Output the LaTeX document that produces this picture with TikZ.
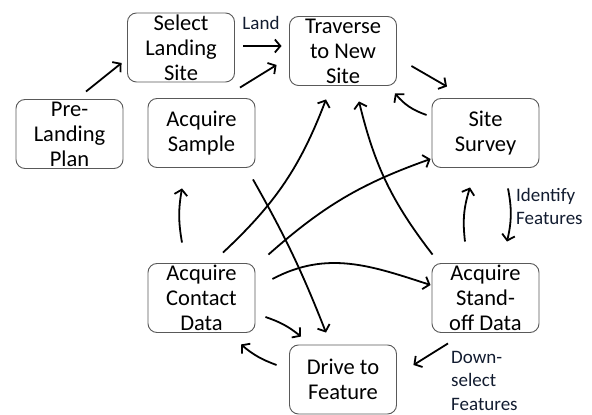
\documentclass[tikz,border=0pt]{standalone}
\usepackage{fontspec}
\setmainfont{Carlito}
\usetikzlibrary{arrows.meta}
\definecolor{labnavy}{rgb}{0.07,0.11,0.19}
\definecolor{boxedge}{rgb}{0.35,0.35,0.35}

\begin{document}
\begin{tikzpicture}[x=1pt,y=1pt,
   box/.style={draw=boxedge,line width=0.9pt,rounded corners=9pt,minimum width=107pt,
               minimum height=69pt,inner sep=0pt,align=center,
               font=\fontsize{22.5}{25}\selectfont},
   lab/.style={text=labnavy,inner sep=0pt,align=left,font=\fontsize{19}{23.5}\selectfont},
   flow/.style={-{Straight Barb[length=5.5pt,width=13pt]},line width=1.8pt}]
  \useasboundingbox (0,0) rectangle (592,415);
  \node[box] (sel)   at (181,367.5)   {Select\\Landing\\Site};
  \node[box] (trav)  at (343,364)     {Traverse\\to New\\Site};
  \node[box] (pre)   at (69.5,281)    {Pre-\\Landing\\Plan};
  \node[box] (samp)  at (201.5,282)   {Acquire\\Sample};
  \node[box] (surv)  at (485.5,282)   {Site\\Survey};
  \node[box] (cont)  at (201.5,117)   {Acquire\\Contact\\Data};
  \node[box] (stand) at (485.5,117)   {Acquire\\Stand-\\off Data};
  \node[box] (drive) at (343,35.5)    {Drive to\\Feature};
  \node[lab,anchor=base] (land)    at (261,385)   {Land};
  \node[lab,anchor=west] (ident)   at (516,208.5) {Identify\\Features};
  \node[lab,anchor=west] (downsel) at (451,34.5)  {Down-\\select\\Features};
  % outer loop
  \draw[flow] ([xshift=16.5,yshift=7.5]pre.north) -- ([xshift=-5.5,yshift=-15.5]sel.west);
  \draw[flow] ([xshift=8.5,yshift=1.5]sel.east) -- ([xshift=-7.5,yshift=5]trav.west);
  \draw[flow] ([xshift=38.5,yshift=10.5]samp.north) -- ([xshift=-12.5,yshift=-14]trav.west);
  \draw[flow] ([xshift=14.5,yshift=-15]trav.east) -- ([xshift=-38.5,yshift=11.5]surv.north);
  \draw[flow] ([xshift=-5,yshift=18]surv.west) to[bend left=15] ([xshift=52,yshift=-7.5]trav.south);
  \draw[flow] ([xshift=-20.5,yshift=21.5]stand.north) to[bend left=12] ([xshift=-15.5,yshift=-19.5]surv.south);
  \draw[flow] ([xshift=22.5,yshift=-20.5]surv.south) to[bend left=12] ([xshift=21.5,yshift=21.5]stand.north);
  \draw[flow] ([xshift=-37.5,yshift=-10.5]stand.south) -- ([xshift=16.5,yshift=14.5]drive.east);
  \draw[flow] ([xshift=-12.5,yshift=14.5]drive.west) to[bend left=10] ([xshift=39.5,yshift=-11.5]cont.south);
  \draw[flow] ([xshift=10,yshift=-19]cont.east) to[bend left=10] ([xshift=-42,yshift=8]drive.north);
  \draw[flow] ([xshift=-19.5,yshift=20.5]cont.north) to[bend left=10] ([xshift=-19.5,yshift=-20.5]samp.south);
  % crossing links
  \draw[flow] ([xshift=51.5,yshift=-11.5]samp.south) to[bend left=4] ([xshift=-17,yshift=12]drive.north);
  \draw[flow] ([xshift=21.5,yshift=10.5]cont.north) to[bend right=13] ([xshift=-17,yshift=-13.5]trav.south);
  \draw[flow] ([xshift=13,yshift=8.5]cont.north east) to[bend left=11] ([xshift=-1,yshift=-26]surv.west);
  \draw[flow] ([xshift=17,yshift=19]cont.east) to[out=28,in=162] ([xshift=-1,yshift=13]stand.west);
  \draw[flow] ([xshift=1,yshift=8.5]stand.north west) to[bend left=12] ([xshift=16,yshift=-15.5]trav.south);
\end{tikzpicture}
\end{document}
